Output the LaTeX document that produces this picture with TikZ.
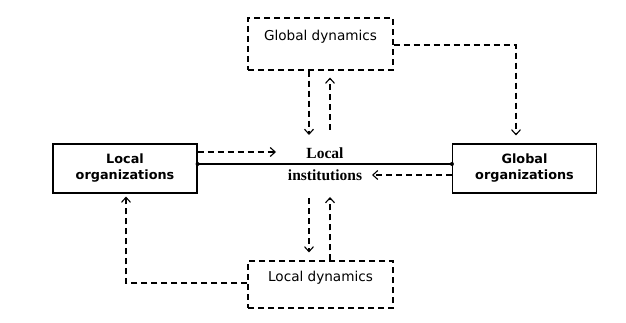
\documentclass[tikz,border=0pt]{standalone}
\usepackage{fontspec}
\setmainfont{DejaVu Sans}
\newfontfamily\instfont{Liberation Serif}
\usepackage{tikz}
\usetikzlibrary{positioning, arrows.meta, calc}

\begin{document}
\begin{tikzpicture}[
  x=1pt, y=-1pt,
  orgbox/.style={draw, line width=1.1pt, minimum width=144pt, minimum height=49pt, align=center, font=\fontsize{12.8}{16}\selectfont\bfseries, inner sep=0pt},
  dynbox/.style={draw, dash pattern=on 6pt off 4pt, line width=1.1pt, minimum width=145pt, inner sep=0pt, text height=10pt, text depth=16pt, font=\fontsize{13.6}{16}\selectfont},
  dlink/.style={-{Straight Barb[length=5pt, width=9pt, line width=1.1pt]}, line width=1.1pt, dash pattern=on 6pt off 4pt},
  dot/.style={circle, fill, inner sep=0pt, minimum size=4pt},
]
\useasboundingbox (0,0) rectangle (626,323);

% ── boxes ──
\node[dynbox, minimum height=52pt] (gdyn) at (320.5,44) {Global dynamics};
\node[dynbox, minimum height=47pt] (ldyn) at (320.5,284.5) {Local dynamics};
\node[orgbox] (lorg) at (125,168.5) {Local\\organizations};
\node[orgbox] (gorg) at (524.5,168.5) {Global\\organizations};
\node[align=center, font=\instfont\fontsize{15.5}{22}\selectfont\bfseries, inner sep=0pt] (inst) at (325,164) {Local\\institutions};

% ── free ends ──
\coordinate (lin)  at (276,152);
\coordinate (gin)  at (372,175);
\coordinate (gdn)  at (309,135);
\coordinate (gup)  at (330,130);
\coordinate (ldn)  at (309,198);
\coordinate (lup)  at (330,197);

% ── solid link ──
\draw[line width=1.3pt] (lorg.east |- inst.center) node[dot] {} -- (gorg.west |- inst.center) node[dot] {};

% ── dashed links ──
\draw[dlink] (lorg.east |- lin) -- (lin);
\draw[dlink] (gorg.west |- gin) -- (gin);
\draw[dlink] (gdyn.south -| gdn) -- (gdn);
\draw[dlink, shorten >=7pt] (gup) -- (gdyn.south -| gup);
\draw[dlink, shorten >=8pt] (ldn) -- (ldyn.north -| ldn);
\draw[dlink] (ldyn.north -| lup) -- (lup);
\draw[dlink, shorten >=8pt] (gdyn.east |- 0,45) -| (gorg.north -| 516,0);
\draw[dlink, shorten >=3pt] (ldyn.west |- 0,283) -| (lorg.south -| 126,0);
\end{tikzpicture}
\end{document}
